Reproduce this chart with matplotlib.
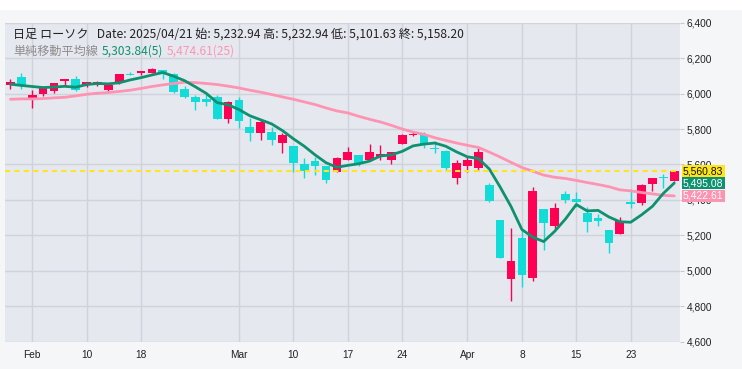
import numpy as np
import matplotlib
matplotlib.use("Agg")
import matplotlib.pyplot as plt
from matplotlib.patches import Rectangle

# 日足データ (バー番号順)
opens = [6049, 6093, 5975, 5998, 6015, 6072, 6081, 6046, 6049, 6021,
         6060, 6110, 6115, 6115, 6132, 6110, 6024, 5979, 5968, 5979,
         5855, 5962, 5809, 5775, 5781, 5719, 5702, 5600, 5622, 5589,
         5560, 5628, 5651, 5628, 5640, 5628, 5715, 5764, 5764, 5692,
         5674, 5523, 5594, 5579, 5487, 5289, 4951, 5185, 4962, 5351,
         5251, 5436, 5408, 5328, 5300, 5232.94, 5206, 5391, 5381, 5489,
         5528, 5506]
highs = [6081, 6114, 6019, 6029, 6059, 6083, 6098, 6068, 6070, 6047,
         6110, 6121, 6127, 6144, 6132, 6115, 6042, 5990, 5996, 5990,
         5957, 5979, 5860, 5849, 5809, 5775, 5702, 5634, 5645, 5594,
         5640, 5696, 5651, 5713, 5708, 5668, 5770, 5787, 5781, 5730,
         5679, 5623, 5645, 5691, 5493, 5289, 5243, 5234, 5475, 5351,
         5380, 5452, 5447, 5362, 5323, 5232.94, 5306, 5464, 5489, 5521,
         5549, 5566]
lows = [6026, 6026, 5919, 5987, 6006, 6051, 6015, 6038, 6042, 6008,
        6054, 6104, 6107, 6115, 6081, 6004, 5974, 5908, 5928, 5855,
        5832, 5804, 5730, 5736, 5708, 5662, 5560, 5526, 5543, 5498,
        5560, 5628, 5594, 5628, 5628, 5600, 5715, 5760, 5692, 5664,
        5566, 5489, 5555, 5566, 5387, 5070, 4830, 4906, 4945, 5115,
        5234, 5385, 5362, 5217, 5251, 5101.63, 5206, 5353, 5370, 5453,
        5466, 5506]
closes = [6064, 6042, 5992, 6029, 6059, 6081, 6021, 6063, 6063, 6047,
          6110, 6104, 6127, 6138, 6115, 6008, 5979, 5951, 5951, 5855,
          5951, 5843, 5775, 5838, 5736, 5764, 5611, 5566, 5594, 5515,
          5634, 5668, 5611, 5668, 5657, 5668, 5764, 5770, 5715, 5687,
          5579, 5606, 5628, 5668, 5393, 5070, 5056, 4979, 5452, 5268,
          5357, 5402, 5391, 5274, 5279, 5158.20, 5283, 5376, 5483, 5521,
          5523, 5560.83]
ma5 = [6053, 6046, 6040, 6034, 6037, 6041, 6036, 6051, 6057, 6055,
       6061, 6077, 6090, 6105, 6119, 6098, 6073, 6038, 6001, 5949,
       5937, 5910, 5875, 5852, 5829, 5791, 5745, 5703, 5654, 5610,
       5584, 5595, 5604, 5619, 5648, 5654, 5674, 5705, 5715, 5721,
       5703, 5671, 5643, 5634, 5575, 5473, 5363, 5233, 5190, 5165,
       5222, 5292, 5374, 5338, 5341, 5303.84, 5277, 5274, 5316, 5364,
       5437, 5495.08]
ma25 = [5968, 5970, 5970, 5972, 5976, 5979, 5987, 5996, 6002, 6006,
        6012, 6019, 6029, 6040, 6049, 6057, 6064, 6062, 6057, 6051,
        6042, 6032, 6019, 6008, 5995, 5981, 5968, 5953, 5938, 5919,
        5902, 5891, 5872, 5855, 5840, 5821, 5800, 5783, 5770, 5751,
        5736, 5721, 5708, 5696, 5670, 5642, 5612, 5583, 5562, 5540,
        5528, 5521, 5510, 5498, 5487, 5474.61, 5457, 5451, 5442, 5434,
        5426, 5422.61]

tick_bars = [2, 7, 12, 21, 26, 31, 36, 42, 47, 52, 57]
tick_labels = ['Feb', '10', '18', 'Mar', '10', '17', '24', 'Apr', '8', '15', '23']
y_ticks = [4600, 4800, 5000, 5200, 5400, 5600, 5800, 6000, 6200, 6400]

up_col = '#FF0052'
down_col = '#12DCD7'
ma5_col = '#0E9170'
ma25_col = '#FF94B2'
bg_col = '#E6E8F0'
fig_bg = '#F5F6F8'
grid_col = '#D0D2DC'

W, H = 742, 369
fig = plt.figure(figsize=(W / 100, H / 100), dpi=100, facecolor=fig_bg)
fig.patches.append(Rectangle((0, 1 - 10 / H), 1, 10 / H, transform=fig.transFigure,
                             facecolor='white', edgecolor='none', zorder=0))
ax = fig.add_axes([5 / W, (H - 341.7) / H, 675 / W, 319 / H])
ax.set_facecolor(bg_col)

x = np.arange(len(closes))
o = np.array(opens)
c = np.array(closes)
h = np.array(highs)
l = np.array(lows)
cols = [up_col if cc >= oo else down_col for oo, cc in zip(o, c)]
bottom = np.minimum(o, c)
height = np.maximum(np.abs(c - o), 5)

ax.vlines(x, l, h, colors=cols, linewidth=1.0, zorder=3)
ax.bar(x, height, bottom=bottom, width=0.8, color=cols, zorder=4, linewidth=0)

ax.plot(x, ma25, color=ma25_col, lw=2.0, zorder=5, solid_capstyle='round')
ax.plot(x, ma5, color=ma5_col, lw=2.0, zorder=6, solid_capstyle='round')
ax.axhline(closes[-1], color='#FFE51A', lw=1.5, ls=(0, (2.5, 2)), zorder=7)

ax.set_xlim(-0.5, 61.53)
ax.set_ylim(4600, 6400)
ax.set_xticks(tick_bars)
ax.set_xticklabels(tick_labels)
ax.set_yticks(y_ticks)
ax.set_yticklabels([f'{v:,}' for v in y_ticks])
ax.yaxis.tick_right()
ax.grid(True, color=grid_col, lw=1.0, zorder=0)
ax.set_axisbelow(True)
for s in ax.spines.values():
    s.set_visible(False)
ax.tick_params(axis='x', length=0, pad=6, labelsize=7.3, labelcolor='#222222')
ax.tick_params(axis='y', length=3, width=0.8, color='#C8CAD2', pad=2,
               labelsize=7.3, labelcolor='#222222')
for t in ax.get_xticklabels() + ax.get_yticklabels():
    t.set_fontfamily('Liberation Sans')

# 右端のラベル
last_labels = [(closes[-1], '#FFE51A', '#111111'),
               (ma5[-1], ma5_col, 'white'),
               (ma25[-1], ma25_col, 'white')]
for val, fc, tc in last_labels:
    ax.annotate(f'{val:,.2f}', xy=(1.0, val), xycoords=('axes fraction', 'data'),
                xytext=(3, 0), textcoords='offset pixels', va='center', ha='left',
                fontsize=7.5, color=tc, family='Liberation Sans', zorder=10,
                annotation_clip=False,
                bbox=dict(boxstyle='square,pad=0.12', fc=fc, ec='none'))

# ヘッダー
jp = ['Noto Sans CJK JP', 'DejaVu Sans']
fs = 8.7
fig.text(13 / W, 1 - 34 / H,
         '日足 ローソク   Date: 2025/04/21 始: 5,232.94 高: 5,232.94 低: 5,101.63 終: 5,158.20',
         family=jp, fontsize=fs, color='#222222', va='center', ha='left')
fig.text(13 / W, 1 - 51.5 / H, '単純移動平均線', family=jp, fontsize=fs,
         color='#8C8C8C', va='center', ha='left')
fig.text(102 / W, 1 - 51.5 / H, '5,303.84(5)', family=jp, fontsize=fs,
         color=ma5_col, va='center', ha='left')
fig.text(167 / W, 1 - 51.5 / H, '5,474.61(25)', family=jp, fontsize=fs,
         color=ma25_col, va='center', ha='left')

fig.savefig('out.png', dpi=100, facecolor=fig_bg)
